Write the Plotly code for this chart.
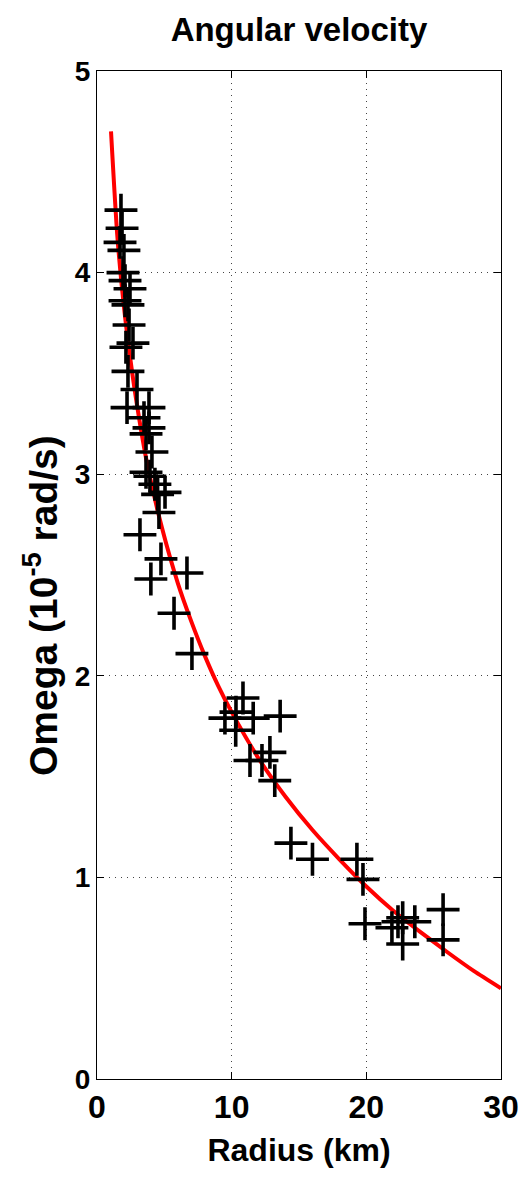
import plotly.graph_objects as go

# Measured data points (radius km, omega 1e-5 rad/s)
radius = [1.78, 1.86, 1.71, 2.00, 1.93, 2.08, 2.45, 2.08, 2.30, 2.38, 2.67, 2.15,
          2.30, 2.97, 2.23, 3.86, 3.49, 3.86, 3.64, 4.08, 3.64, 3.93, 4.30, 5.05,
          4.50, 4.60, 3.19, 4.75, 6.68, 4.00, 5.72, 7.05,
          10.84, 10.32, 9.50, 10.30, 11.60, 13.60, 11.36, 12.25, 12.84, 13.20,
          14.40, 16.00, 19.30, 19.75, 19.90, 21.90, 22.70, 23.60, 22.35, 22.70,
          25.70, 25.70]
omega = [4.31, 4.22, 4.15, 4.11, 4.00, 3.96, 3.92, 3.86, 3.84, 3.74, 3.65, 3.63,
         3.51, 3.42, 3.33, 3.33, 3.28, 3.23, 3.20, 3.11, 3.01, 2.99, 2.95, 2.91,
         2.90, 2.81, 2.70, 2.58, 2.51, 2.48, 2.31, 2.11,
         1.89, 1.82, 1.79, 1.73, 1.79, 1.80, 1.58, 1.58, 1.62, 1.48,
         1.17, 1.09, 1.09, 0.99, 0.77, 0.75, 0.80, 0.78, 0.78, 0.67,
         0.84, 0.69]

# Fitted curve
fit_r = [1.04, 1.5, 2.0, 2.6, 3.0, 3.7, 4.8, 6.0, 7.0, 8.0, 9.0, 10.0, 12.0,
         14.0, 16.0, 18.0, 20.0, 22.0, 24.0, 26.0, 28.0, 30.0]
fit_w = [4.70, 4.19, 3.83, 3.51, 3.33, 3.06, 2.74, 2.46, 2.27, 2.10, 1.95, 1.82,
         1.59, 1.40, 1.235, 1.09, 0.955, 0.835, 0.73, 0.63, 0.535, 0.45]

x_ticks = [0, 10, 20, 30]
y_ticks = [0, 1, 2, 3, 4, 5]

FONT = "Liberation Sans, Arial, Helvetica, sans-serif"

fig = go.Figure()
fig.add_trace(go.Scatter(x=fit_r, y=fit_w, mode="lines",
                         line=dict(color="#ff0000", width=4, shape="spline", smoothing=0.6),
                         showlegend=False, hoverinfo="skip"))
fig.add_trace(go.Scatter(x=radius, y=omega, mode="markers",
                         marker=dict(symbol="cross-thin", size=23.5, color="black",
                                     line=dict(color="black", width=3.6)),
                         showlegend=False))

axis_common = dict(showline=True, linecolor="black", linewidth=1, mirror="ticks",
                   ticks="inside", ticklen=7, tickcolor="black", tickwidth=1,
                   showgrid=True, gridcolor="#444444", griddash="1px,5px", gridwidth=1,
                   zeroline=False)

fig.update_layout(
    width=531, height=1178,
    margin=dict(l=97, r=30, t=71, b=99),
    plot_bgcolor="white", paper_bgcolor="white",
    title=dict(text="Angular velocity", x=299/531, xanchor="center", xref="container",
               y=1 - 29/1178, yanchor="middle", yref="container",
               font=dict(family=FONT, size=33, color="black", weight="bold")),
    xaxis=dict(range=[0, 30], tickvals=x_ticks, ticktext=[str(v) for v in x_ticks],
               tickfont=dict(family=FONT, size=32, color="black", weight="bold"),
               title=dict(text="Radius (km)", standoff=14,
                          font=dict(family=FONT, size=32, color="black", weight="bold")),
               **axis_common),
    yaxis=dict(range=[0, 5], tickvals=y_ticks, ticktext=[str(v) for v in y_ticks],
               tickfont=dict(family=FONT, size=28, color="black", weight="bold"),
               **axis_common),
    annotations=[dict(text="Omega (10<sup>-5</sup> rad/s)", textangle=-90,
                      xref="paper", yref="paper",
                      x=-(97 - 40) / 404, y=(1079 - 606) / 1008,
                      xanchor="center", yanchor="middle", showarrow=False,
                      font=dict(family=FONT, size=39, color="black", weight="bold"))],
)

fig.write_html("out.html")
